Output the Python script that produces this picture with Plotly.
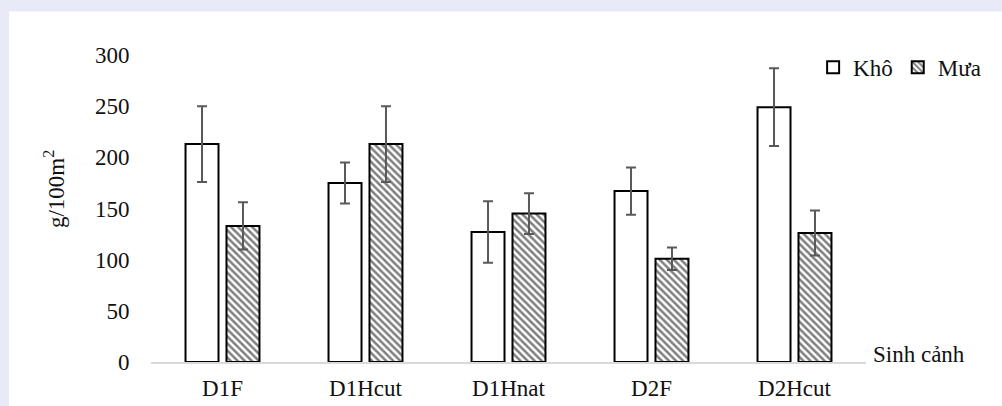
import plotly.graph_objects as go

categories = ["D1F", "D1Hcut", "D1Hnat", "D2F", "D2Hcut"]
kho_values = [213, 175, 127, 167, 249]
mua_values = [133, 213, 145, 101, 126]
kho_err = [37, 20, 30, 23, 38]
mua_err = [23, 37, 20, 11, 22]
y_ticks = [0, 50, 100, 150, 200, 250, 300]

FONT = "Liberation Serif, serif"
FS = 23

fig = go.Figure()
fig.add_trace(go.Bar(
    name="Khô", x=categories, y=kho_values,
    marker=dict(color="white", line=dict(color="black", width=2)),
    error_y=dict(type="data", array=kho_err, color="#595959", thickness=2, width=5),
))
fig.add_trace(go.Bar(
    name="Mưa", x=categories, y=mua_values,
    marker=dict(color="white", line=dict(color="black", width=2),
                pattern=dict(shape="\\", fgcolor="black", bgcolor="white", size=5, solidity=0.5)),
    error_y=dict(type="data", array=mua_err, color="#595959", thickness=2, width=5),
))

fig.update_layout(
    width=1002, height=406,
    margin=dict(l=151, r=136, t=55, b=44),
    paper_bgcolor="#e8ebf7",
    plot_bgcolor="rgba(0,0,0,0)",
    font=dict(family=FONT, size=FS, color="#111111"),
    bargap=0.427, bargroupgap=0.195,
    barmode="group",
    showlegend=True,
    legend=dict(orientation="h", x=1.168, xanchor="right", y=0.96, yanchor="middle",
                bgcolor="rgba(0,0,0,0)", font=dict(family=FONT, size=FS, color="#111111"),
                itemwidth=30, tracegroupgap=0),
    shapes=[dict(type="rect", xref="paper", yref="paper", x0=-0.1986, x1=1.2, y0=-0.2, y1=1.142,
                 fillcolor="white", line=dict(width=0), layer="below")],
    annotations=[
        dict(text="Sinh cảnh", xref="paper", yref="paper", x=1.007, y=0.026,
             xanchor="left", yanchor="middle", showarrow=False, font=dict(family=FONT, size=FS)),
        dict(text="g/100m<sup>2</sup>", xref="paper", yref="paper", x=-0.135, y=0.565,
             xanchor="center", yanchor="middle", textangle=-90, showarrow=False,
             font=dict(family=FONT, size=FS)),
    ],
)
fig.update_xaxes(showline=True, linecolor="#d9d9d9", linewidth=2, showgrid=False, automargin=False,
                 ticks="outside", ticklen=4, tickcolor="rgba(0,0,0,0)", zeroline=False,
                 tickfont=dict(family=FONT, size=FS))
fig.update_yaxes(range=[0, 300], tickvals=y_ticks, showgrid=False, zeroline=False, showline=False,
                 automargin=False, ticks="outside", ticklen=16, tickcolor="rgba(0,0,0,0)",
                 tickfont=dict(family=FONT, size=FS))

fig.write_html("out.html", config={"displayModeBar": False},
               post_script="document.body.style.margin='0';document.body.style.overflow='hidden';")
